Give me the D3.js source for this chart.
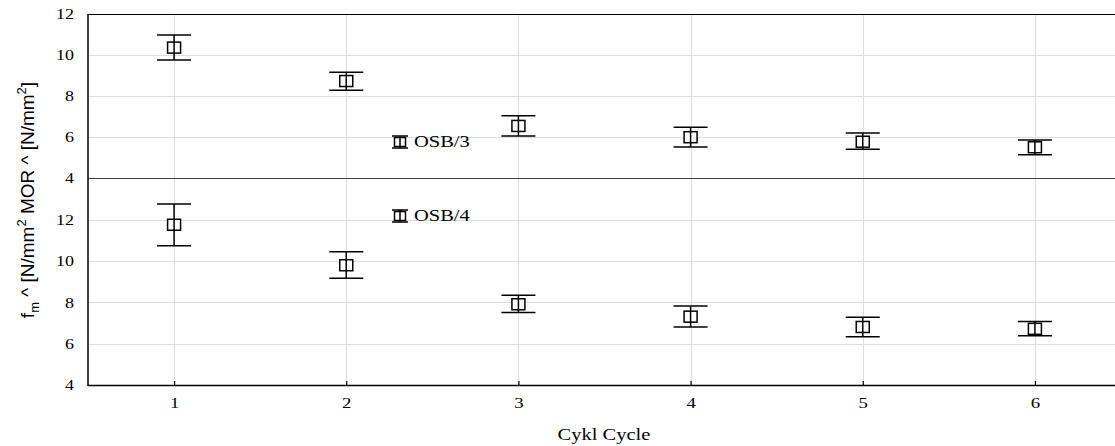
<!DOCTYPE html>
<html>
<head>
<meta charset="utf-8">
<script src="https://cdn.jsdelivr.net/npm/d3@7"></script>
<style>
  body { margin: 0; background: #fff; }
  svg { display: block; }
</style>
</head>
<body>
<svg id="chart" width="1115" height="446"></svg>
<script>
// cycles on the x axis
const cycles = [1, 2, 3, 4, 5, 6]

// OSB/3 (top panel): mean, lower, upper
const osb3Mean = [10.36, 8.73, 6.54, 5.99, 5.77, 5.50]
const osb3Low  = [9.76, 8.28, 6.05, 5.51, 5.40, 5.14]
const osb3High = [10.97, 9.16, 7.04, 6.47, 6.20, 5.85]

// OSB/4 (bottom panel)
const osb4Mean = [11.76, 9.80, 7.91, 7.31, 6.81, 6.72]
const osb4Low  = [10.74, 9.17, 7.51, 6.81, 6.34, 6.38]
const osb4High = [12.76, 10.45, 8.35, 7.82, 7.28, 7.07]

const topTicks = [4, 6, 8, 10, 12]
const botTicks = [4, 6, 8, 10, 12]

const svg = d3.select("#chart")

const x = d3.scaleLinear().domain([0.5, 6.5]).range([88, 1121])
const yTop = d3.scaleLinear().domain([4, 12]).range([178, 14])
const yBot = d3.scaleLinear().domain([4, 14]).range([385, 178.5])

const serif = "'Liberation Serif', 'Times New Roman', serif"

// the source renders its serif text a bit wide
function widen(sel, k) {
  sel.each(function() {
    const w = this.getComputedTextLength()
    d3.select(this).attr("textLength", w * k).attr("lengthAdjust", "spacingAndGlyphs")
  })
}

// grid lines
const grid = svg.append("g").attr("stroke", "#dddddd").attr("stroke-width", 1)
cycles.forEach(c => {
  grid.append("line")
    .attr("x1", Math.round(x(c)) + 0.5).attr("x2", Math.round(x(c)) + 0.5)
    .attr("y1", 14).attr("y2", 385)
})
topTicks.slice(1, -1).forEach(t => {
  grid.append("line").attr("x1", 88).attr("x2", 1121)
    .attr("y1", Math.round(yTop(t)) + 0.5).attr("y2", Math.round(yTop(t)) + 0.5)
})
botTicks.slice(1).forEach(t => {
  grid.append("line").attr("x1", 88).attr("x2", 1121)
    .attr("y1", Math.round(yBot(t)) + 0.5).attr("y2", Math.round(yBot(t)) + 0.5)
})

// frame + panel divider
svg.append("line").attr("x1", 88).attr("x2", 1121).attr("y1", 14.5).attr("y2", 14.5)
  .attr("stroke", "#000").attr("stroke-width", 1.2)
svg.append("line").attr("x1", 88).attr("x2", 1121).attr("y1", 178.5).attr("y2", 178.5)
  .attr("stroke", "#444").attr("stroke-width", 1.2)
svg.append("line").attr("x1", 88).attr("x2", 1121).attr("y1", 385.5).attr("y2", 385.5)
  .attr("stroke", "#000").attr("stroke-width", 1.5)
svg.append("line").attr("x1", 88).attr("x2", 88).attr("y1", 14).attr("y2", 386)
  .attr("stroke", "#000").attr("stroke-width", 1.5)

// y axes
svg.append("g")
  .attr("transform", "translate(88,0)")
  .call(d3.axisLeft(yTop).tickValues(topTicks).tickSize(0).tickPadding(14))
  .call(g => g.select(".domain").remove())
  .selectAll("text").attr("font-family", serif).attr("font-size", 15).attr("fill", "#000")
  .call(widen, 1.2)

svg.append("g")
  .attr("transform", "translate(88,0)")
  .call(d3.axisLeft(yBot).tickValues(botTicks).tickSize(0).tickPadding(14))
  .call(g => g.select(".domain").remove())
  .call(g => g.selectAll(".tick").filter(d => d === 4).remove())
  .selectAll("text").attr("font-family", serif).attr("font-size", 15).attr("fill", "#000")
  .call(widen, 1.2)
// bottom "4"
svg.append("text").attr("x", 74).attr("y", yBot(4)).attr("dy", "0.32em")
  .attr("text-anchor", "end").attr("font-family", serif).attr("font-size", 15).text("4")
  .call(widen, 1.2)

// x axis
svg.append("g")
  .attr("transform", "translate(0,385)")
  .call(d3.axisBottom(x).tickValues(cycles).tickSize(-4).tickPadding(12).tickFormat(d3.format("d")))
  .call(g => g.select(".domain").remove())
  .call(g => g.selectAll("line").attr("stroke", "#000").attr("stroke-width", 1.2))
  .selectAll("text").attr("font-family", serif).attr("font-size", 15).attr("fill", "#000")
  .call(widen, 1.25)

// axis titles
svg.append("text")
  .attr("x", 604).attr("y", 440)
  .attr("text-anchor", "middle").attr("font-family", serif).attr("font-size", 16)
  .text("Cykl Cycle")
  .call(widen, 1.28)

const yl = svg.append("text")
  .attr("transform", "translate(34,200) rotate(-90)")
  .attr("text-anchor", "middle")
  .attr("font-family", "'Liberation Sans', Arial, sans-serif")
  .attr("font-size", 19)
yl.append("tspan").text("f")
yl.append("tspan").attr("font-size", 13).attr("dy", 5).text("m")
yl.append("tspan").attr("dy", -5).text(" ^ [N/mm")
yl.append("tspan").attr("font-size", 13).attr("dy", -8).text("2")
yl.append("tspan").attr("dy", 8).text(" MOR ^ [N/mm")
yl.append("tspan").attr("font-size", 13).attr("dy", -8).text("2")
yl.append("tspan").attr("dy", 8).text("]")

// error bars with square markers
function drawSeries(mean, low, high, y) {
  const g = svg.append("g").attr("stroke", "#000").attr("fill", "none").attr("stroke-width", 1.5)
  cycles.forEach((c, i) => {
    const cx = x(c)
    g.append("line").attr("x1", cx).attr("x2", cx).attr("y1", y(high[i])).attr("y2", y(low[i]))
    g.append("line").attr("x1", cx - 17).attr("x2", cx + 17).attr("y1", y(high[i])).attr("y2", y(high[i]))
    g.append("line").attr("x1", cx - 17).attr("x2", cx + 17).attr("y1", y(low[i])).attr("y2", y(low[i]))
    g.append("rect").attr("x", cx - 6.5).attr("y", y(mean[i]) - 5.5)
      .attr("width", 13).attr("height", 11).attr("fill", "#fff")
    g.append("line").attr("x1", cx).attr("x2", cx).attr("y1", y(mean[i]) - 5.5).attr("y2", y(mean[i]) + 5.5)
  })
}
drawSeries(osb3Mean, osb3Low, osb3High, yTop)
drawSeries(osb4Mean, osb4Low, osb4High, yBot)

// legends
function legend(label, cy) {
  const g = svg.append("g").attr("stroke", "#000").attr("fill", "none").attr("stroke-width", 1.5)
  const cx = 400
  g.append("line").attr("x1", cx - 8).attr("x2", cx + 8).attr("y1", cy - 5).attr("y2", cy - 5)
  g.append("line").attr("x1", cx - 8).attr("x2", cx + 8).attr("y1", cy + 7).attr("y2", cy + 7)
  g.append("rect").attr("x", cx - 5.5).attr("y", cy - 3.5).attr("width", 11).attr("height", 9).attr("fill", "#fff")
  g.append("line").attr("x1", cx).attr("x2", cx).attr("y1", cy - 5).attr("y2", cy + 7)
  svg.append("text").attr("x", 414).attr("y", cy).attr("dy", "0.35em")
    .attr("font-family", serif).attr("font-size", 16).text(label)
    .call(widen, 1.28)
}
legend("OSB/3", 141)
legend("OSB/4", 215)
</script>
</body>
</html>
